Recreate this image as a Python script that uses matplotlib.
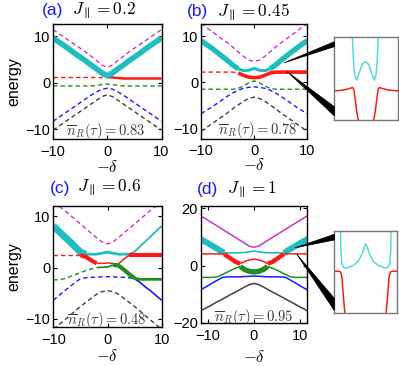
import matplotlib
matplotlib.use("Agg")
import matplotlib.pyplot as plt
from matplotlib.patches import Polygon
import numpy as np

plt.rcParams["font.family"] = ["Liberation Sans", "DejaVu Sans"]
plt.rcParams["mathtext.fontset"] = "cm"

# ---------------- data ----------------
x_abc = [-10, -9, -8, -7, -6, -5, -4, -3, -2, -1, 0, 1, 2, 3, 4, 5, 6, 7, 8, 9, 10]

# (a) J = 0.2
a_mag = [11.4, 10.6, 9.8, 9.0, 8.2, 7.4, 6.6, 5.7, 4.8, 3.8, 3.3, 3.8, 4.8, 5.7, 6.6, 7.4, 8.2, 9.0, 9.8, 10.6, 11.4]
a_cyan = [9.6, 8.8, 8.0, 7.2, 6.3, 5.5, 4.7, 3.8, 3.0, 2.1, 1.5, 2.1, 3.0, 3.8, 4.7, 5.5, 6.3, 7.2, 8.0, 8.8, 9.6]
a_red = [1.2, 1.2, 1.2, 1.2, 1.2, 1.2, 1.2, 1.2, 1.2, 1.2, 1.2, 1.1, 1.0, 0.9, 0.9, 0.9, 0.9, 0.9, 0.9, 0.9, 0.9]
a_green = [-0.7, -0.7, -0.7, -0.7, -0.7, -0.7, -0.7, -0.7, -0.6, -0.4, -0.3, -0.4, -0.6, -0.7, -0.7, -0.7, -0.7, -0.7, -0.7, -0.7, -0.7]
a_blue = [-8.3, -7.5, -6.7, -5.9, -5.1, -4.3, -3.5, -2.7, -2.0, -1.4, -1.2, -1.4, -2.0, -2.7, -3.5, -4.3, -5.1, -5.9, -6.7, -7.5, -8.3]
a_black = [-10.2, -9.4, -8.6, -7.8, -7.0, -6.2, -5.4, -4.6, -3.8, -3.0, -2.6, -3.0, -3.8, -4.6, -5.4, -6.2, -7.0, -7.8, -8.6, -9.4, -10.2]

# (b) J = 0.45
b_mag = [12.7, 11.9, 11.0, 10.2, 9.3, 8.5, 7.6, 6.6, 5.6, 4.8, 4.5, 4.8, 5.6, 6.6, 7.6, 8.5, 9.3, 10.2, 11.0, 11.9, 12.7]
b_cyan = [9.0, 8.2, 7.4, 6.5, 5.6, 4.7, 3.7, 2.9, 2.5, 2.6, 3.0, 2.6, 2.5, 2.9, 3.7, 4.7, 5.6, 6.5, 7.4, 8.2, 9.0]
b_red = [2.2, 2.2, 2.2, 2.2, 2.2, 2.2, 2.2, 2.0, 1.5, 1.1, 1.0, 1.1, 1.5, 2.0, 2.2, 2.2, 2.2, 2.2, 2.2, 2.2, 2.2]
b_green = [-1.5, -1.5, -1.5, -1.5, -1.5, -1.5, -1.5, -1.3, -0.8, -0.1, 0.3, -0.1, -0.8, -1.3, -1.5, -1.5, -1.5, -1.5, -1.5, -1.5, -1.5]
b_blue = [-6.8, -6.1, -5.4, -4.6, -3.8, -3.0, -2.3, -1.7, -1.3, -1.1, -1.0, -1.1, -1.3, -1.7, -2.3, -3.0, -3.8, -4.6, -5.4, -6.1, -6.8]
b_black = [-10.6, -9.8, -9.0, -8.2, -7.4, -6.6, -5.7, -4.9, -4.1, -3.5, -3.2, -3.5, -4.1, -4.9, -5.7, -6.6, -7.4, -8.2, -9.0, -9.8, -10.6]

# (c) J = 0.6
c_mag = [12.8, 12.0, 11.2, 10.3, 9.4, 8.5, 7.6, 6.7, 5.8, 5.0, 4.6, 5.0, 5.8, 6.7, 7.6, 8.5, 9.4, 10.3, 11.2, 12.0, 12.8]
c_cyan = [8.1, 7.1, 6.1, 5.1, 4.1, 3.0, 2.6, 2.6, 2.6, 2.8, 3.0, 2.8, 2.6, 2.6, 2.6, 3.1, 4.1, 5.1, 6.1, 7.1, 8.1]
c_red = [2.4, 2.4, 2.4, 2.4, 2.4, 2.4, 2.1, 1.4, 0.8, 0.8, 0.9, 0.8, 0.7, 1.6, 2.4, 2.4, 2.4, 2.4, 2.4, 2.4, 2.4]
c_green = [-2.4, -2.4, -2.2, -1.8, -1.4, -1.0, -0.6, -0.3, 0.0, 0.05, 0.1, 0.5, 0.4, -0.4, -1.3, -2.1, -2.3, -2.3, -2.3, -2.3, -2.3]
c_blue = [-6.4, -5.5, -4.6, -3.8, -2.9, -2.2, -2.0, -1.9, -1.9, -1.8, -1.8, -1.8, -1.9, -1.9, -2.0, -2.2, -2.9, -3.8, -4.6, -5.5, -6.4]
c_black = [-12.0, -11.2, -10.3, -9.4, -8.5, -7.6, -6.8, -6.0, -5.2, -4.7, -4.5, -4.7, -5.2, -6.0, -6.8, -7.6, -8.5, -9.4, -10.3, -11.2, -12.0]

# (d) J = 1
x_d = [-12, -11, -10, -9, -8, -7, -6.5, -6, -5, -4, -3, -2, -1, 0, 1, 2, 3, 4, 5, 6, 6.5, 7, 8, 9, 10, 11, 12]
d_mag = [17.8, 16.8, 15.8, 14.8, 13.8, 12.8, 12.3, 11.8, 10.8, 9.8, 8.8, 7.8, 6.8, 6.4,
         6.8, 7.8, 8.8, 9.8, 10.8, 11.8, 12.3, 12.8, 13.8, 14.8, 15.8, 16.8, 17.8]
d_cyan = [9.6, 8.7, 7.8, 6.8, 5.9, 4.9, 4.5, 4.45, 4.45, 4.45, 4.5, 4.6, 4.8, 5.1,
          4.8, 4.6, 4.5, 4.45, 4.45, 4.45, 4.5, 4.9, 5.9, 6.8, 7.8, 8.7, 9.6]
d_red = [4.1, 4.1, 4.1, 4.1, 4.1, 4.1, 4.0, 3.5, 2.4, 1.3, 0.7, 1.5, 2.0, 2.3,
         2.0, 1.5, 0.7, 1.3, 2.4, 3.5, 4.0, 4.1, 4.1, 4.1, 4.1, 4.1, 4.1]
d_green = [-4.1, -4.1, -4.1, -4.1, -3.9, -3.2, -2.8, -2.4, -1.6, -0.9, -0.3, -1.4, -2.0, -2.2,
           -2.0, -1.4, -0.3, -0.9, -1.6, -2.4, -2.8, -3.2, -3.9, -4.1, -4.1, -4.1, -4.1]
d_blue = [-8.8, -7.9, -7.0, -6.0, -5.1, -4.2, -4.0, -3.95, -3.9, -3.9, -3.9, -3.8, -3.7, -3.6,
          -3.7, -3.8, -3.9, -3.9, -3.9, -3.95, -4.0, -4.2, -5.1, -6.0, -7.0, -7.9, -8.8]
d_black = [-16.1, -15.2, -14.4, -13.5, -12.6, -11.8, -11.3, -10.9, -10.0, -9.2, -8.3, -7.4, -6.6, -6.2,
           -6.6, -7.4, -8.3, -9.2, -10.0, -10.9, -11.3, -11.8, -12.6, -13.5, -14.4, -15.2, -16.1]

titles = ["(a)", "(b)", "(c)", "(d)"]
j_labels = [r"$J_{\parallel}=0.2$", r"$J_{\parallel}=0.45$", r"$J_{\parallel}=0.6$", r"$J_{\parallel}=1$"]
occupations = ["0.83", "0.78", "0.48", "0.95"]

# zoomed insets (normalised inset coordinates)
ib_cyan_x = [0.285, 0.30, 0.32, 0.35, 0.39, 0.44, 0.49, 0.54, 0.59, 0.63, 0.66, 0.68, 0.695]
ib_cyan_y = [1.0, 0.75, 0.55, 0.48, 0.56, 0.67, 0.70, 0.67, 0.56, 0.48, 0.55, 0.75, 1.0]
ib_red_lx = [0.0, 0.15, 0.25, 0.29, 0.31, 0.33, 0.35, 0.37, 0.38]
ib_red_ly = [0.35, 0.36, 0.38, 0.39, 0.36, 0.25, 0.12, 0.03, 0.0]
ib_red_rx = [0.62, 0.63, 0.65, 0.67, 0.69, 0.71, 0.75, 0.85, 1.0]
ib_red_ry = [0.0, 0.03, 0.12, 0.25, 0.36, 0.39, 0.38, 0.36, 0.35]

id_cyan_x = [0.10, 0.105, 0.12, 0.15, 0.20, 0.30, 0.38, 0.44, 0.48, 0.50, 0.52, 0.56, 0.62, 0.70, 0.80, 0.85, 0.88, 0.895, 0.90]
id_cyan_y = [1.0, 0.75, 0.60, 0.555, 0.55, 0.58, 0.63, 0.72, 0.81, 0.845, 0.81, 0.72, 0.63, 0.58, 0.55, 0.555, 0.60, 0.75, 1.0]
id_red_lx = [0.0, 0.07, 0.10, 0.12, 0.14, 0.16, 0.17]
id_red_ly = [0.51, 0.51, 0.50, 0.44, 0.25, 0.06, 0.0]
id_red_rx = [0.82, 0.83, 0.85, 0.87, 0.89, 0.92, 1.0]
id_red_ry = [0.0, 0.06, 0.25, 0.44, 0.50, 0.51, 0.51]

# ---------------- styling ----------------
MAG, CYAN, RED, GREEN, BLUE, GRAY = "#cc33cc", "#1ebebe", "#ff1a1a", "#1f8f1f", "#1a1aff", "#404040"
CYAN_IN = "#55ddd5"
DASH = (0, (3.2, 2.2))


def draw(ax, x, y, color, segs):
    x = np.asarray(x, float)
    y = np.asarray(y, float)
    for x0, x1, lw, ls in segs:
        m = (x >= x0) & (x <= x1)
        ax.plot(x[m], y[m], color=color, lw=lw, ls=ls,
                solid_capstyle="butt", dash_capstyle="butt", solid_joinstyle="round")


def dashed(lo=-99, hi=99):
    return [(lo, hi, 1.0, DASH)]


fig = plt.figure(figsize=(3.99, 3.66), dpi=100)
W, H = 399.0, 366.0


def px_axes(l, t, r, b):
    return fig.add_axes([l / W, 1 - b / H, (r - l) / W, (b - t) / H])


ax_a = px_axes(53, 24, 161.5, 139.5)
ax_b = px_axes(201, 24, 307.3, 138.7)
ax_c = px_axes(53.3, 206, 161.7, 327)
ax_d = px_axes(200.7, 206, 307.3, 323)

# (a)
draw(ax_a, x_abc, a_mag, MAG, dashed())
draw(ax_a, x_abc, a_black, GRAY, dashed())
draw(ax_a, x_abc, a_blue, BLUE, dashed())
draw(ax_a, x_abc, a_green, GREEN, dashed())
draw(ax_a, x_abc, a_red, RED, [(-10, 0, 1.0, DASH), (0, 10, 1.8, "-")])
draw(ax_a, x_abc, a_cyan, CYAN, [(-10, 10, 4.0, "-")])

# (b)
draw(ax_b, x_abc, b_mag, MAG, dashed())
draw(ax_b, x_abc, b_black, GRAY, dashed())
draw(ax_b, x_abc, b_blue, BLUE, dashed())
draw(ax_b, x_abc, b_green, GREEN, dashed())
draw(ax_b, x_abc, b_cyan, CYAN, [(-10, -3, 3.8, "-"), (-3, 3, 2.2, "-"), (3, 10, 3.8, "-")])
draw(ax_b, x_abc, b_red, RED, [(-10, -3, 1.0, DASH), (-3, 10, 2.6, "-")])

# (c)
draw(ax_c, x_abc, c_mag, MAG, dashed())
draw(ax_c, x_abc, c_black, GRAY, dashed())
draw(ax_c, x_abc, c_blue, BLUE, [(-10, 5, 1.0, DASH), (5, 10, 1.2, "-")])
draw(ax_c, x_abc, c_cyan, CYAN, [(-10, -4, 5.0, "-"), (-4, 4, 2.0, "-"), (4, 10, 1.3, "-")])
draw(ax_c, x_abc, c_red, RED, [(-10, -5, 1.0, DASH), (-5, -2, 3.0, "-"), (-2, 4, 1.1, "-"), (4, 10, 3.0, "-")])
draw(ax_c, x_abc, c_green, GREEN, [(-10, -2, 1.0, DASH), (-2, 1, 1.3, "-"), (1, 5, 3.0, "-"), (5, 10, 2.0, "-")])

# (d)
thin = [(-99, 99, 1.1, "-")]
draw(ax_d, x_d, d_mag, MAG, thin)
draw(ax_d, x_d, d_black, GRAY, thin)
draw(ax_d, x_d, d_blue, BLUE, thin)
draw(ax_d, x_d, d_cyan, CYAN, [(-12, -6.5, 4.4, "-"), (-6.5, 6.5, 1.2, "-"), (6.5, 12, 4.4, "-")])
draw(ax_d, x_d, d_red, RED, [(-12, -6.5, 1.1, "-"), (-6.5, -3, 3.2, "-"), (-3, 3, 1.1, "-"),
                             (3, 6.5, 3.2, "-"), (6.5, 12, 1.1, "-")])
draw(ax_d, x_d, d_green, GREEN, [(-12, -3, 1.1, "-"), (-3, 3, 3.8, "-"), (3, 12, 1.1, "-")])

limits = [((-10, 10), (-12.2, 12.6)), ((-10, 10), (-12.2, 12.6)),
          ((-10, 10), (-11.6, 12.0)), ((-11.6, 11.6), (-19.5, 20.8))]
yticks = [[-10, 0, 10], [-10, 0, 10], [-10, 0, 10], [-20, 0, 20]]
text_pos = [(0.49, 0.075), (0.53, 0.08), (0.49, 0.06), (0.5, 0.05)]
xlab_y = [-0.235, -0.23, -0.24, -0.29]

for ax, (xl, yl), yt, occ, tp, xy in zip([ax_a, ax_b, ax_c, ax_d], limits, yticks,
                                         occupations, text_pos, xlab_y):
    ax.set_xlim(*xl)
    ax.set_ylim(*yl)
    ax.set_xticks([-10, 0, 10])
    ax.set_yticks(yt)
    ax.tick_params(direction="in", length=3, width=0.8, top=True, right=True,
                   labelsize=10.5, pad=2)
    ax.tick_params(axis="x", pad=4)
    for s in ax.spines.values():
        s.set_linewidth(1.0)
    ax.set_xlabel(r"$-\delta$", fontsize=12, va="center")
    ax.xaxis.set_label_coords(0.5, xy)
    ax.text(tp[0], tp[1], r"$\overline{n}_R(\tau)=" + occ + "$", transform=ax.transAxes,
            ha="center", va="center", fontsize=10.5, color="#3a3a3a")

for ax in (ax_a, ax_c):
    ax.set_ylabel("energy", fontsize=11.5, va="center")
    ax.yaxis.set_label_coords(-0.36, 0.5)

# panel titles
title_pos = [(41.7, 71.7, 11), (186.7, 216.7, 11.7), (50, 76.7, 188), (196.7, 226.7, 189.7)]
for (xl, xj, yc), t, j in zip(title_pos, titles, j_labels):
    fig.text(xl / W, 1 - yc / H, t, color="#1a1aff", fontsize=12.5, ha="left", va="center")
    fig.text(xj / W, 1 - yc / H, j, color="black", fontsize=12.5, ha="left", va="center")

# insets
ins_b = px_axes(334.3, 36.7, 397.7, 120)
ins_d = px_axes(334.3, 231, 397.3, 313)
for ins in (ins_b, ins_d):
    ins.set_xlim(0, 1)
    ins.set_ylim(0, 1)
    ins.set_xticks([])
    ins.set_yticks([])
    for s in ins.spines.values():
        s.set_color("#777777")
        s.set_linewidth(1.0)

ins_b.plot(ib_cyan_x, ib_cyan_y, color=CYAN_IN, lw=1.1)
ins_b.plot(ib_red_lx, ib_red_ly, color=RED, lw=1.1)
ins_b.plot(ib_red_rx, ib_red_ry, color=RED, lw=1.1)
ins_d.plot(id_cyan_x, id_cyan_y, color=CYAN_IN, lw=1.1)
ins_d.plot(id_red_lx, id_red_ly, color=RED, lw=1.1)
ins_d.plot(id_red_rx, id_red_ry, color=RED, lw=1.1)


def wedge(ax, ins, apex, y_hi, y_lo):
    inv = fig.transFigure.inverted()
    p0 = inv.transform(ax.transData.transform(apex))
    p1 = inv.transform(ins.transAxes.transform((0, y_hi)))
    p2 = inv.transform(ins.transAxes.transform((0, y_lo)))
    fig.add_artist(Polygon([p0, p1, p2], closed=True, facecolor="black",
                           edgecolor="black", lw=0.5, transform=fig.transFigure))


wedge(ax_b, ins_b, (5.6, 4.2), 0.94, 0.88)
wedge(ax_b, ins_b, (6.2, 2.3), 0.16, 0.05)
wedge(ax_d, ins_d, (8.9, 6.2), 0.96, 0.89)
wedge(ax_d, ins_d, (9.3, 4.0), 0.18, 0.03)

fig.savefig("out.png", dpi=100)
